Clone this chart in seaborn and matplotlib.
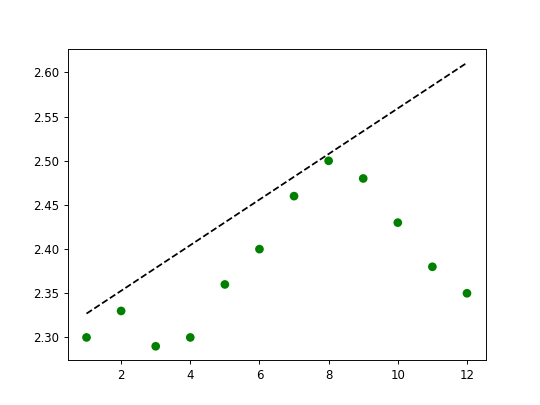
import matplotlib
matplotlib.use("Agg")
import matplotlib.pyplot as plt
import seaborn as sns
import pandas as pd

# data
months = [1, 2, 3, 4, 5, 6, 7, 8, 9, 10, 11, 12]
values = [2.30, 2.33, 2.29, 2.30, 2.36, 2.40, 2.46, 2.50, 2.48, 2.43, 2.38, 2.35]
trend_x = [1, 12]
trend_y = [2.327, 2.611]

df = pd.DataFrame({"x": months, "y": values})
df_trend = pd.DataFrame({"x": trend_x, "y": trend_y})

plt.style.use("default")
fig, ax = plt.subplots(figsize=(6.4, 4.8), dpi=84.375)

sns.scatterplot(data=df, x="x", y="y", ax=ax, color="green", s=55,
                edgecolor="none", linewidth=0, zorder=3)
sns.lineplot(data=df_trend, x="x", y="y", ax=ax, color="black",
             linestyle="--", linewidth=1.5)

ax.set_xlabel("")
ax.set_ylabel("")
ax.set_yticks([2.30, 2.35, 2.40, 2.45, 2.50, 2.55, 2.60])

fig.savefig("out.png", dpi=84.375)
